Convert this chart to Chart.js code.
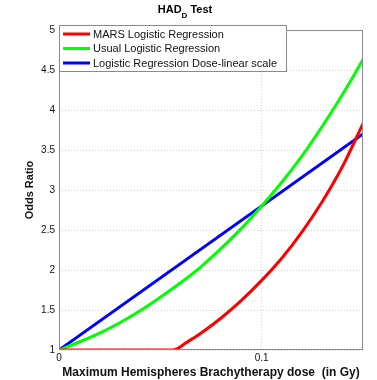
<!DOCTYPE html>
<html>
<head>
<meta charset="utf-8">
<script src="https://cdn.jsdelivr.net/npm/chart.js@4/dist/chart.umd.min.js"></script>
<style>
  html, body { margin: 0; padding: 0; background: #fff; }
  #wrap { width: 377px; height: 380px; }
</style>
</head>
<body>
<div id="wrap"><canvas id="orChart" width="377" height="380"></canvas></div>
<script>
// Chart text
const titleMain = 'HAD';
const titleSub = 'D';
const titleRest = ' Test';
const xTitle = 'Maximum Hemispheres Brachytherapy dose  (in Gy)';
const yTitle = 'Odds Ratio';
const seriesNames = ['MARS Logistic Regression', 'Usual Logistic Regression', 'Logistic Regression Dose-linear scale'];

// Axis ticks
const xTickValues = [0, 0.1];
const yTickValues = [1, 1.5, 2, 2.5, 3, 3.5, 4, 4.5, 5];

// MARS logistic regression
const marsDose = [0, 0.0564, 0.063, 0.07, 0.08, 0.09, 0.1, 0.11, 0.12, 0.13, 0.14, 0.15];
const marsOdds = [1, 1, 1.095, 1.21, 1.4, 1.62, 1.87, 2.15, 2.48, 2.86, 3.3, 3.83];

// Usual logistic regression
const usualDose = [0, 0.01, 0.02, 0.03, 0.04, 0.05, 0.06, 0.07, 0.08, 0.09, 0.1, 0.11, 0.12, 0.13, 0.14, 0.15];
const usualOdds = [1, 1.1, 1.21, 1.34, 1.49, 1.66, 1.84, 2.04, 2.27, 2.52, 2.8, 3.1, 3.43, 3.8, 4.2, 4.63];

// Logistic regression, dose-linear scale
const linearDose = [0, 0.15];
const linearOdds = [1, 3.7];

const colors = ['#ff0000', '#00ff00', '#0000ff'];

function toPoints(xs, ys) {
    return xs.map((x, i) => ({ x: x, y: ys[i] }));
}

function makeSeries(i, xs, ys) {
    return {
        label: seriesNames[i],
        data: toPoints(xs, ys),
        borderColor: colors[i],
        backgroundColor: colors[i],
        borderWidth: 3,
        pointRadius: 0,
        tension: 0.4,
        cubicInterpolationMode: 'monotone',
        fill: false
    };
}

// frame, title with subscript and boxed legend inside the axes
const matlabLook = {
    id: 'matlabLook',
    afterDraw(chart) {
        const { ctx, chartArea: a } = chart;
        ctx.save();
        ctx.strokeStyle = '#8a8a8a';
        ctx.lineWidth = 1;
        ctx.strokeRect(a.left + 0.5, a.top + 0.5, a.right - a.left - 1, a.bottom - a.top - 1);

        // title (sits a bit left of the axes centre, as in the original)
        ctx.fillStyle = '#000';
        ctx.textBaseline = 'middle';
        ctx.textAlign = 'left';
        ctx.font = 'bold 11px "Liberation Sans", Arial, sans-serif';
        const w1 = ctx.measureText(titleMain).width;
        const w3 = ctx.measureText(titleRest).width;
        ctx.font = 'bold 8px "Liberation Sans", Arial, sans-serif';
        const w2 = ctx.measureText(titleSub).width;
        let tx = 185 - (w1 + w2 + w3) / 2;
        ctx.font = 'bold 11px "Liberation Sans", Arial, sans-serif';
        ctx.fillText(titleMain, tx, 10);
        ctx.font = 'bold 8px "Liberation Sans", Arial, sans-serif';
        ctx.fillText(titleSub, tx + w1, 16);
        ctx.font = 'bold 11px "Liberation Sans", Arial, sans-serif';
        ctx.fillText(titleRest, tx + w1 + w2, 10);

        // legend
        const lx = a.left, ly = 25, lw = 228, lh = 47;
        ctx.fillStyle = '#fff';
        ctx.fillRect(lx, ly, lw, lh);
        ctx.strokeStyle = '#8a8a8a';
        ctx.strokeRect(lx + 0.5, ly + 0.5, lw - 1, lh - 1);
        ctx.font = '11px "Liberation Sans", Arial, sans-serif';
        chart.data.datasets.forEach((ds, i) => {
            const ry = ly + 9 + i * 14.5;
            ctx.strokeStyle = ds.borderColor;
            ctx.lineWidth = 3;
            ctx.beginPath();
            ctx.moveTo(lx + 4, ry);
            ctx.lineTo(lx + 31, ry);
            ctx.stroke();
            ctx.fillStyle = '#111';
            ctx.fillText(ds.label, lx + 34, ry + 0.5);
        });
        ctx.restore();
    }
};

const ctx = document.getElementById('orChart').getContext('2d');
const chart = new Chart(ctx, {
    type: 'line',
    data: {
        datasets: [
            makeSeries(0, marsDose, marsOdds),
            makeSeries(1, usualDose, usualOdds),
            makeSeries(2, linearDose, linearOdds)
        ]
    },
    options: {
        responsive: false,
        animation: false,
        layout: { padding: { top: 30, right: 14, left: 0, bottom: 0 } },
        plugins: {
            legend: { display: false },
            title: { display: false },
            tooltip: { enabled: false }
        },
        scales: {
            x: {
                type: 'linear',
                min: 0,
                max: 0.15,
                afterBuildTicks: scale => { scale.ticks = xTickValues.map(v => ({ value: v })); },
                afterFit: scale => { scale.height = 30; },
                ticks: {
                    padding: 2,
                    color: '#111',
                    font: { family: '"Liberation Sans", Arial, sans-serif', size: 10 },
                    callback: v => String(v)
                },
                grid: { color: '#d2d2d2', drawTicks: false },
                border: { display: false, dash: [1, 2] },
                title: {
                    display: true,
                    text: xTitle,
                    color: '#111',
                    padding: { top: 0, bottom: 0 },
                    font: { family: '"Liberation Sans", Arial, sans-serif', size: 12, weight: 'bold' }
                }
            },
            y: {
                min: 1,
                max: 5,
                afterBuildTicks: scale => { scale.ticks = yTickValues.map(v => ({ value: v })); },
                afterFit: scale => { scale.width = 59; },
                ticks: {
                    padding: 4,
                    color: '#111',
                    font: { family: '"Liberation Sans", Arial, sans-serif', size: 10 },
                    callback: v => String(v)
                },
                grid: { color: '#d2d2d2', drawTicks: false },
                border: { display: false, dash: [1, 2] },
                title: {
                    display: true,
                    text: yTitle,
                    color: '#111',
                    padding: { top: 23, bottom: 0 },
                    font: { family: '"Liberation Sans", Arial, sans-serif', size: 11, weight: 'bold' }
                }
            }
        }
    },
    plugins: [matlabLook]
});
</script>
</body>
</html>
